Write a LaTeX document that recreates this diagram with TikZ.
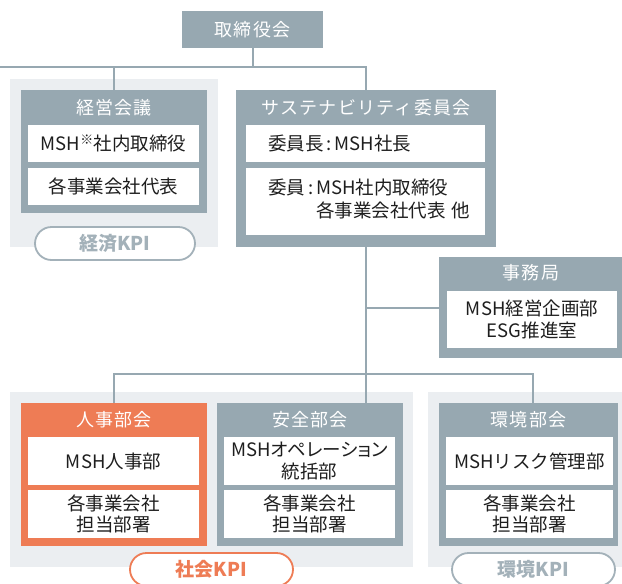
\documentclass[tikz,border=0pt]{standalone}
\usepackage{fontspec}
\setmainfont{Noto Sans CJK JP}
\usetikzlibrary{positioning}

\definecolor{boxgray}{HTML}{97A8B1}
\definecolor{bggray}{HTML}{EBEEF1}
\definecolor{kpigray}{HTML}{A3B1B9}
\definecolor{hrorange}{HTML}{EE7C55}
\definecolor{inktext}{HTML}{1E1E1E}

\begin{document}
\begin{tikzpicture}[x=1pt,y=-1pt,
  every node/.style={inner sep=0pt,outer sep=0pt},
  panel/.style={fill=boxgray,anchor=north west},
  heading/.style={text=white,font=\fontsize{18}{20}\selectfont\addfontfeatures{LetterSpace=7}},
  cell/.style={fill=white,anchor=north west,align=center,text=inktext,
    font=\fontsize{18.5}{21.5}\selectfont},
  kpi/.style={draw=kpigray,fill=white,line width=1.8pt,rounded corners=16.5pt,
    minimum height=33pt,text=kpigray,font=\bfseries\fontsize{19}{20}\selectfont},
  link/.style={draw=boxgray,line width=2pt}]

  \useasboundingbox (0,0) rectangle (622,584);
  \clip (0,0) rectangle (622,584);

  % light grounds
  \fill[bggray] (10,79) rectangle (218,247);
  \fill[bggray] (10,392) rectangle (413,567);
  \fill[bggray] (428,392) rectangle (622,567);

  \coordinate (topbar) at (0,67);
  \coordinate (envdrop) at (533,373.5);

  % board
  \node[panel,minimum width=141pt,minimum height=37pt,heading] (board) at (182,11) {取締役会};

  % management meeting
  \node[panel,minimum width=186pt,minimum height=123pt] (mgmt) at (21,90) {};
  \node[heading] (mgmt-t) at (114,107.5) {経営会議};
  \node[cell,minimum width=171pt,minimum height=37pt] (mgmt-a) at (28,125)
    {MSH\textsuperscript{※}社内取締役};
  \node[cell,minimum width=171pt,minimum height=37pt] (mgmt-b) at (28,168) {各事業会社代表};
  \node[kpi,minimum width=160pt] (kpi-econ) at (115,243.5) {経済KPI};

  % sustainability committee
  \node[panel,minimum width=260pt,minimum height=157pt] (sust) at (236,90) {};
  \node[heading] (sust-t) at (366,107.5) {サステナビリティ委員会};
  \node[cell,align=left,text width=195pt,inner xsep=22pt,minimum height=37pt] (sust-a) at (246,125)
    {委員長\,:\,MSH社長};
  \node[cell,align=left,text width=195pt,inner xsep=22pt,minimum height=67pt] (sust-b) at (246,168)
    {\begin{tabular}{@{}l@{}l@{}}委員\,:\,&MSH社内取締役\\&各事業会社代表 他\end{tabular}};

  % secretariat
  \node[panel,minimum width=183pt,minimum height=101pt] (sec) at (439,257) {};
  \node[heading] (sec-t) at (531,273) {事務局};
  \node[cell,minimum width=170pt,minimum height=57pt] (sec-a) at (447,291)
    {MSH経営企画部\\ESG推進室};

  % subcommittees
  \node[panel,fill=hrorange,minimum width=186pt,minimum height=143pt] (hr) at (21,403) {};
  \node[heading] (hr-t) at (114,420) {人事部会};
  \node[cell,minimum width=171pt,minimum height=48pt] (hr-a) at (28,437) {MSH人事部};
  \node[cell,minimum width=171pt,minimum height=48pt] (hr-b) at (28,490) {各事業会社\\担当部署};

  \node[panel,minimum width=186pt,minimum height=143pt] (safety) at (217,403) {};
  \node[heading] (safety-t) at (310,420) {安全部会};
  \node[cell,minimum width=171pt,minimum height=48pt] (safety-a) at (224,437)
    {\addfontfeatures{RawFeature=+palt}MSHオペレーション\\統括部};
  \node[cell,minimum width=171pt,minimum height=48pt] (safety-b) at (224,490) {各事業会社\\担当部署};

  \node[panel,minimum width=179pt,minimum height=143pt] (env) at (439,403) {};
  \node[heading] (env-t) at (528.5,420) {環境部会};
  \node[cell,minimum width=167pt,minimum height=48pt] (env-a) at (446,437) {MSHリスク管理部};
  \node[cell,minimum width=167pt,minimum height=48pt] (env-b) at (446,490) {各事業会社\\担当部署};

  \node[kpi,draw=hrorange,text=hrorange,minimum width=163pt] (kpi-soc) at (211.5,569.5) {社会KPI};
  \node[kpi,minimum width=163pt] (kpi-env) at (533.5,569.5) {環境KPI};

  % connectors
  \draw[link] (board.south) -- (board.south |- topbar);
  \draw[link] (mgmt.north) |- (topbar) -| (sust.north);
  \draw[link] (sust.south) -- (sust.south |- safety.north);
  \draw[link] (sec.west) -- (sec.west -| sust.south);
  \draw[link] (hr.north) |- (envdrop) -- (envdrop |- env.north);

\end{tikzpicture}
\end{document}
